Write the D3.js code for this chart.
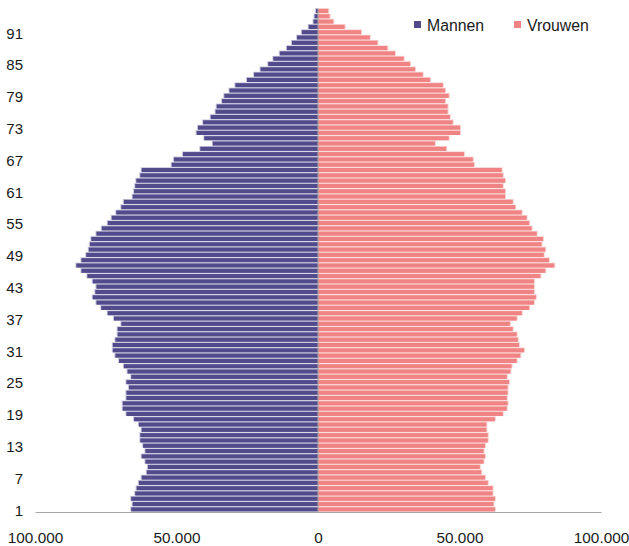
<!DOCTYPE html>
<html>
<head>
<meta charset="utf-8">
<script src="https://cdn.jsdelivr.net/npm/d3@7"></script>
<style>
  body { margin: 0; background: #fff; }
  text { font-family: Arial, 'Liberation Sans', sans-serif; fill: #1a1a1a; }
</style>
</head>
<body>
<div id="chart"></div>
<script>
'use strict';

// leeftijden 1..95
const ages = d3.range(1, 96);

const mannen = [
  66000, 65500, 66000, 64600, 64100, 63300, 62300, 60500, 60100, 61000,
  62300, 61000, 61800, 62800, 62800, 62300, 63300, 65000, 67700, 69000,
  69000, 67700, 67700, 66800, 67700, 66000, 67300, 68600, 70300, 71600,
  72500, 72500, 71600, 70800, 70800, 69500, 72100, 74300, 76600, 78300,
  79600, 78700, 78300, 79600, 81500, 83600, 85400, 83600, 81900, 81000,
  80600, 80100, 78300, 76400, 74300, 72900, 71300, 69500, 68600, 65500,
  65000, 64600, 64200, 62800, 62300, 51700, 50900, 47700, 41600, 37200,
  40200, 42900, 42400, 40600, 37900, 36200, 35800, 33900, 33100, 31300,
  29200, 25100, 22600, 20300, 17600, 15800, 13500, 11000, 9200, 7400,
  5700, 3300, 1600, 1200, 700
];

const vrouwen = [
  62500, 62000, 62500, 61700, 61700, 60000, 59000, 57700, 57200, 58500,
  59000, 58500, 59000, 60000, 60000, 59500, 59500, 62500, 65300, 66700,
  67000, 66700, 67000, 67000, 67500, 66700, 68000, 68400, 70200, 71500,
  72800, 71000, 70600, 70200, 68800, 67800, 70200, 72000, 74600, 76300,
  77000, 76300, 76300, 76300, 78600, 80300, 83500, 81600, 79800, 80300,
  79000, 79500, 77300, 75500, 74600, 73700, 72000, 69700, 68800, 66100,
  66100, 65300, 66100, 65300, 64900, 55100, 54700, 51600, 45300, 41300,
  46200, 50200, 50200, 47600, 46600, 45800, 45800, 44900, 46200, 44900,
  44100, 39600, 37000, 34300, 32500, 30300, 27200, 24500, 21000, 18300,
  15200, 9400, 5400, 4100, 3600
];

const xTicks = [-100000, -50000, 0, 50000, 100000];
const ageLabels = d3.range(1, 96, 6);

const series = [
  { name: 'Mannen', values: mannen, sign: -1, color: '#514b8b', edge: '#c9c6de' },
  { name: 'Vrouwen', values: vrouwen, sign: 1, color: '#f08383', edge: '#f9d3d3' },
];

const W = 629;
const H = 546;

const nl = d3.formatLocale({ decimal: ',', thousands: '.', grouping: [3], currency: ['€', ''] });
const fmt = nl.format(',');

const svg = d3.select('#chart')
  .append('svg')
  .attr('width', W)
  .attr('height', H);

const x = d3.scaleLinear()
  .domain([-100000, 100000])
  .range([35, 601]);

const y = d3.scaleBand()
  .domain(ages.slice().reverse())
  .range([8.4, 512])
  .paddingInner(0.22)
  .paddingOuter(0.1);

// bars
series.forEach((s) => {
  const g = svg.append('g');
  const rows = ages.map((a, i) => ({ age: a, v: s.values[i] }));

  // lichte rand (excel schaduw)
  g.selectAll('rect.edge')
    .data(rows)
    .enter()
    .append('rect')
    .attr('class', 'edge')
    .attr('x', d => s.sign < 0 ? x(-d.v) - 1 : x(0))
    .attr('y', d => y(d.age) - 0.8)
    .attr('width', d => Math.abs(x(s.sign * d.v) - x(0)) + 1)
    .attr('height', y.bandwidth() + 0.8)
    .attr('fill', s.edge);

  g.selectAll('rect.bar')
    .data(rows)
    .enter()
    .append('rect')
    .attr('class', 'bar')
    .attr('x', d => s.sign < 0 ? x(-d.v) : x(0))
    .attr('y', d => y(d.age))
    .attr('width', d => Math.abs(x(s.sign * d.v) - x(0)))
    .attr('height', y.bandwidth())
    .attr('fill', s.color);
});

// nul-lijn
svg.append('line')
  .attr('x1', x(0))
  .attr('x2', x(0))
  .attr('y1', y.range()[0])
  .attr('y2', y.range()[1])
  .attr('stroke', '#a6a6a6')
  .attr('stroke-width', 1);

// x-as
const xAxis = svg.append('g')
  .attr('transform', `translate(0, ${y.range()[1]})`)
  .call(d3.axisBottom(x)
    .tickValues(xTicks)
    .tickSize(0)
    .tickPadding(20)
    .tickFormat(d => fmt(Math.abs(d))));

xAxis.select('.domain').attr('stroke', '#a6a6a6');
xAxis.selectAll('text')
  .style('font-size', '15.3px')
  .attr('fill', '#1a1a1a');

// leeftijd labels
const yAxis = svg.append('g')
  .attr('transform', 'translate(23, 0)')
  .call(d3.axisLeft(y)
    .tickValues(ageLabels)
    .tickSize(0)
    .tickPadding(0));

yAxis.select('.domain').remove();
yAxis.selectAll('text')
  .style('font-size', '15px')
  .attr('dy', '0.42em')
  .attr('fill', '#1a1a1a');

// legenda
const legend = svg.append('g');
const legendX = [414, 514];

series.forEach((s, i) => {
  legend.append('rect')
    .attr('x', legendX[i])
    .attr('y', 21)
    .attr('width', 7)
    .attr('height', 7)
    .attr('fill', s.color);

  legend.append('text')
    .attr('x', legendX[i] + 13)
    .attr('y', 30.5)
    .style('font-size', '15.8px')
    .text(s.name);
});
</script>
</body>
</html>
